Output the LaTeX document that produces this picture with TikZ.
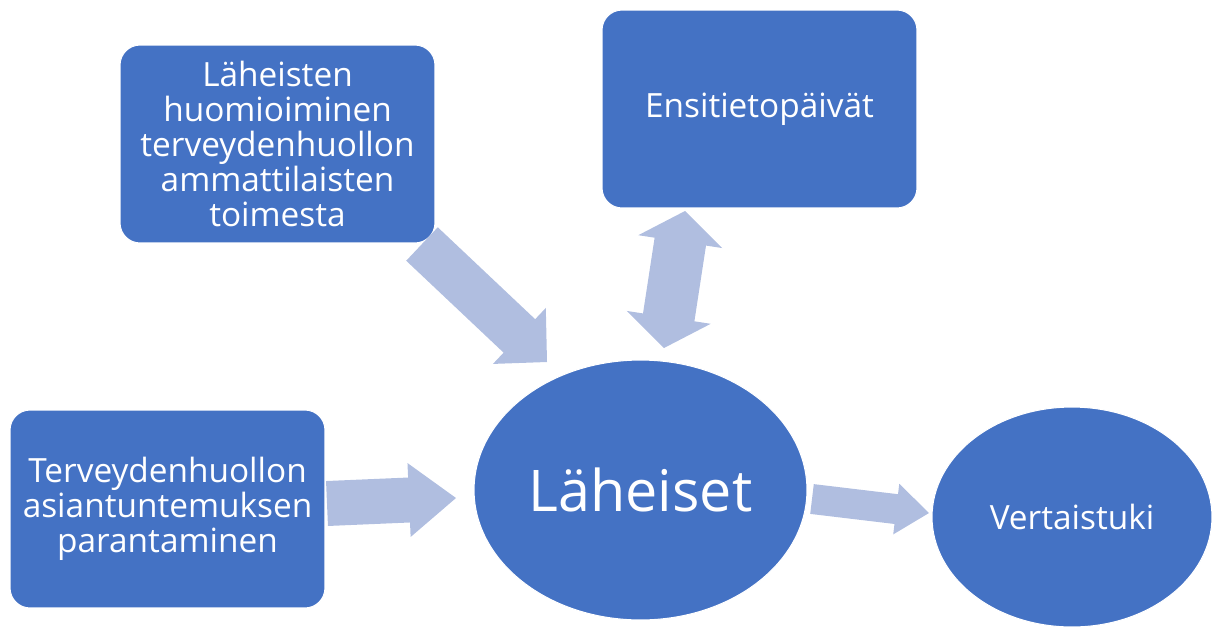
\documentclass[tikz,border=0pt]{standalone}
\usepackage{fontspec}
\setmainfont{Open Sans}
\usetikzlibrary{calc,shapes.geometric}
\definecolor{boxblue}{RGB}{68,114,196}
\definecolor{arrowblue}{RGB}{176,190,224}

\tikzset{
  topicbox/.style={fill=boxblue, draw=white, line width=0.6pt, rounded corners=0.4cm,
    minimum width=6.3cm, minimum height=3.96cm, text=white, align=center,
    font=\fontsize{19}{20}\selectfont},
  topicoval/.style={ellipse, fill=boxblue, draw=white, line width=0.6pt, text=white,
    inner sep=0pt, font=\fontsize{19}{20}\selectfont},
  blockarrow/.style={fill=arrowblue}
}

% start, end, half shaft width, half head width, head length
\newcommand{\fatarrow}[5]{%
  \coordinate (hb) at ($(#2)!#5!(#1)$);
  \fill[blockarrow] ($(#1)!#3!90:(#2)$) -- ($(hb)!#3!-90:(#1)$) -- ($(hb)!#4!-90:(#1)$)
    -- (#2) -- ($(hb)!#4!90:(#1)$) -- ($(hb)!#3!90:(#1)$) -- ($(#1)!#3!-90:(#2)$) -- cycle;
}
% both ends pointed
\newcommand{\fatdoublearrow}[5]{%
  \coordinate (hb1) at ($(#2)!#5!(#1)$);
  \coordinate (hb2) at ($(#1)!#5!(#2)$);
  \fill[blockarrow] (#1) -- ($(hb2)!#4!90:(#2)$) -- ($(hb2)!#3!90:(#2)$)
    -- ($(hb1)!#3!-90:(#1)$) -- ($(hb1)!#4!-90:(#1)$) -- (#2)
    -- ($(hb1)!#4!90:(#1)$) -- ($(hb1)!#3!90:(#1)$)
    -- ($(hb2)!#3!-90:(#2)$) -- ($(hb2)!#4!-90:(#2)$) -- cycle;
}

\begin{document}
\begin{tikzpicture}[x=0.02cm,y=-0.02cm]
    \useasboundingbox (0,0) rectangle (1213,626);

    % nodes
    \node[topicbox] (huomio) at (277.5,144) {Läheisten\\huomioiminen\\terveydenhuollon\\ammattilaisten\\toimesta};
    \node[topicbox] (ensitieto) at (759.5,109) {Ensitietopäivät};
    \node[topicbox] (asiantuntemus) at (167.5,509) {Terveydenhuollon\\asiantuntemuksen\\parantaminen};
    \node[topicoval, minimum width=6.66cm, minimum height=5.2cm,
      font=\fontsize{32.7}{36}\selectfont] (laheiset) at (640.5,490) {Läheiset};
    \node[topicoval, minimum width=5.6cm, minimum height=4.4cm] (vertais) at (1072,517) {Vertaistuki};

    % arrow ends
    \coordinate (a1s) at (327,503.5);  \coordinate (a1e) at (456,498);
    \coordinate (a2s) at (422,244);    \coordinate (a2e) at (547,362);
    \coordinate (a3s) at (664,348);    \coordinate (a3e) at (685,211);
    \coordinate (a4s) at (812,499);    \coordinate (a4e) at (929,513);

    \fatarrow{a1s}{a1e}{0.45cm}{0.74cm}{0.94cm}
    \fatarrow{a2s}{a2e}{0.46cm}{0.77cm}{0.76cm}
    \fatdoublearrow{a3s}{a3e}{0.52cm}{0.85cm}{0.62cm}
    \fatarrow{a4s}{a4e}{0.3cm}{0.51cm}{0.66cm}
\end{tikzpicture}
\end{document}
